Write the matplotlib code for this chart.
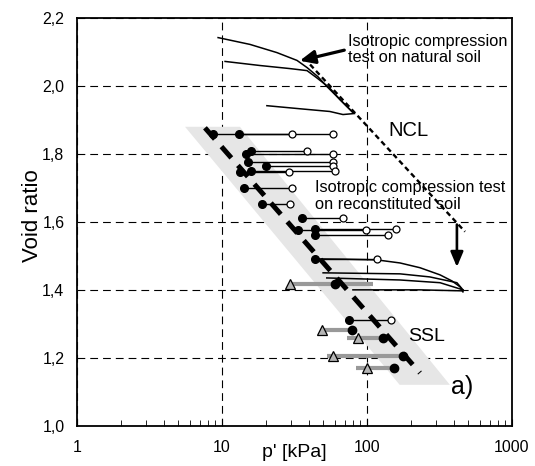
import numpy as np
import matplotlib.pyplot as plt
from matplotlib.patches import Polygon

plt.rcParams['font.family'] = ['Liberation Sans', 'DejaVu Sans']
plt.rcParams['hatch.color'] = '#c4c4c4'
plt.rcParams['hatch.linewidth'] = 0.6

# drained/undrained tests: open circle = initial state, filled circle = critical state
p_init = [30.4, 58.3, 58.3, 38.6, 58.3, 58.3, 29.0, 60.0, 30.4, 29.4, 68.0, 98.5, 158, 139, 117, 146]
p_crit = [8.7, 13.1, 14.6, 15.8, 15.1, 20.1, 13.3, 15.8, 14.1, 18.9, 35.6, 33.4, 43.6, 43.6, 43.8, 75.0]
e_test = [1.859, 1.859, 1.800, 1.809, 1.776, 1.765, 1.745, 1.750, 1.700, 1.653, 1.612, 1.576, 1.579, 1.562, 1.491, 1.312]

# tests on reconstituted samples (grey)
g_tri = [29.4, 48.8, 86.6, 58.3, 100]
g_crit = [60, 78.5, 129, 177, 153]
g_left = [29.4, 48.8, 73, 53, 84]
g_right = [110, 78.5, 129, 177, 153]
g_e = [1.418, 1.282, 1.259, 1.206, 1.171]

# isotropic compression, natural soil
nat1_p = [9.4, 15.6, 23.9, 32.9, 38.6, 45.9, 53.0, 65.1, 80.0]
nat1_e = [2.141, 2.121, 2.097, 2.074, 2.053, 2.026, 1.997, 1.959, 1.921]
nat2_p = [10.5, 18.3, 29.4, 38.6, 45.0, 55.0, 65.1, 80.0]
nat2_e = [2.071, 2.059, 2.050, 2.044, 2.023, 1.994, 1.959, 1.921]
nat3_p = [20.4, 34.4, 55.4, 68.3, 82.0]
nat3_e = [1.941, 1.932, 1.924, 1.915, 1.918]

# isotropic compression, reconstituted soil
rec1_p = [43.8, 70.5, 117, 169, 232, 319, 386, 438, 459]
rec1_e = [1.491, 1.490, 1.488, 1.479, 1.465, 1.444, 1.426, 1.409, 1.394]
rec2_p = [49.8, 169, 271, 417, 459]
rec2_e = [1.450, 1.447, 1.438, 1.421, 1.400]
rec3_p = [52.8, 169, 319, 459]
rec3_e = [1.435, 1.429, 1.421, 1.400]
rec4_p = [459, 232, 80]
rec4_e = [1.397, 1.400, 1.400]

ncl_p = [40.5, 474]
ncl_e = [2.062, 1.571]
ssl_p = [7.63, 232]
ssl_e = [1.876, 1.156]
band_p = [5.56, 13.3, 373, 168]
band_e = [1.879, 1.879, 1.121, 1.121]

fig = plt.figure(figsize=(5.35, 4.66), dpi=100)
ax = fig.add_axes([0.1439, 0.0858, 0.8131, 0.8766])
ax.set_xscale('log')
ax.set_xlim(1, 1000)
ax.set_ylim(1.0, 2.2)

ax.add_patch(Polygon(list(zip(band_p, band_e)), closed=True, facecolor='#e6e6e6',
                     edgecolor='none', hatch='.....', lw=0, zorder=1))

ax.plot(ssl_p, ssl_e, color='black', lw=3.6, ls=(0, (3, 2)), solid_capstyle='butt',
        dash_capstyle='butt', zorder=4)
ax.plot(ncl_p, ncl_e, color='black', lw=1.7, ls=(0, (2.2, 1.5)), zorder=3)

for p, e in [(nat1_p, nat1_e), (nat2_p, nat2_e), (nat3_p, nat3_e),
             (rec1_p, rec1_e), (rec2_p, rec2_e), (rec3_p, rec3_e), (rec4_p, rec4_e)]:
    ax.plot(p, e, color='black', lw=1.1, zorder=3)

for a, b, e in zip(g_left, g_right, g_e):
    ax.plot([a, b], [e, e], color='#999999', lw=3.0, solid_capstyle='butt', zorder=3)
ax.plot(g_tri, g_e, ls='none', marker='^', ms=6.5, mfc='#b5b5b5', mec='black', mew=0.9, zorder=6)
ax.plot(g_crit, g_e, ls='none', marker='o', ms=6, mfc='black', mec='black', zorder=6)

for a, b, e in zip(p_crit, p_init, e_test):
    ax.plot([a, b], [e, e], color='black', lw=1.0, zorder=3)
ax.plot(p_init, e_test, ls='none', marker='o', ms=5, mfc='white', mec='black', mew=0.9, zorder=6)
ax.plot(p_crit, e_test, ls='none', marker='o', ms=5.5, mfc='black', mec='black', zorder=6)

ax.annotate('', xy=(32.9, 2.071), xytext=(72.8, 2.106),
            arrowprops=dict(arrowstyle='-|>,head_length=0.9,head_width=0.4', color='black', lw=2.3))
ax.annotate('', xy=(417, 1.459), xytext=(417, 1.60),
            arrowprops=dict(arrowstyle='-|>,head_length=0.9,head_width=0.38', color='black', lw=1.9))

ax.text(73.9, 2.106, 'Isotropic compression\ntest on natural soil', fontsize=11.8,
        ha='left', va='center', linespacing=1.12)
ax.text(139.6, 1.868, 'NCL', fontsize=14.5, ha='left', va='center')
ax.text(43.8, 1.676, 'Isotropic compression test\non reconstituted soil', fontsize=11.8,
        ha='left', va='center', linespacing=1.12)
ax.text(192, 1.262, 'SSL', fontsize=14, ha='left', va='center')
ax.text(380, 1.115, 'a)', fontsize=18, ha='left', va='center')

ax.grid(True, which='major', color='black', lw=0.8, ls=(0, (7, 4.5)))
ax.set_axisbelow(True)
ax.set_xticks([1, 10, 100, 1000])
ax.set_xticklabels(['1', '10', '100', '1000'])
yt = np.arange(1.0, 2.21, 0.2)
ax.set_yticks(yt)
ax.set_yticklabels([f'{v:.1f}'.replace('.', ',') for v in yt])
ax.tick_params(axis='x', which='both', direction='in', labelsize=11.5, pad=10)
ax.tick_params(axis='x', which='major', length=5)
ax.tick_params(axis='x', which='minor', length=4)
ax.tick_params(axis='y', direction='in', length=0, labelsize=11.5, pad=9)
for s in ax.spines.values():
    s.set_linewidth(1.3)

ax.set_xlabel("p' [kPa]", fontsize=14)
ax.xaxis.set_label_coords(0.5, -0.045)
ax.set_ylabel('Void ratio', fontsize=16)
ax.yaxis.set_label_coords(-0.078, 0.516)

fig.savefig('out.png', dpi=100)
